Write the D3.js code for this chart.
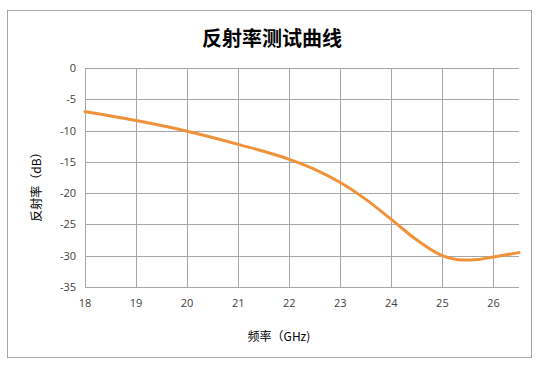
<!DOCTYPE html>
<html><head><meta charset="utf-8">
<script src="https://cdn.jsdelivr.net/npm/d3@7"></script>
<style>body{margin:0;background:#fff}</style>
</head><body>
<svg id="c" width="542" height="370"></svg>
<script>
const freq = [18, 19, 20, 21, 22, 22.5, 23, 23.5, 24, 24.5, 25, 25.4, 25.7, 26, 26.5];
const reflect = [-7, -8.4, -10.1, -12.2, -14.6, -16.2, -18.3, -21, -24.2, -27.5, -30, -30.7, -30.6, -30.2, -29.5];
const xTicks = [18, 19, 20, 21, 22, 23, 24, 25, 26];
const yTicks = [0, -5, -10, -15, -20, -25, -30, -35];
const title = "反射率测试曲线";
const xTitle = "频率（GHz)";
const yTitle = "反射率（dB）";

const svg = d3.select("#c");
svg.append("rect").attr("x", 7.5).attr("y", 10.5).attr("width", 524).attr("height", 347)
  .attr("fill", "#fff").attr("stroke", "#a6a6a6").attr("stroke-width", 1);

const L = 85, R = 519, T = 68, B = 287;
const x = d3.scaleLinear().domain([18, 26.5]).range([L, R]);
const y = d3.scaleLinear().domain([-35, 0]).range([B, T]);

const g = svg.append("g");
// horizontal grid
g.selectAll("line.h").data(yTicks).join("line")
  .attr("x1", L).attr("x2", R).attr("y1", d => Math.round(y(d)) + 0.5).attr("y2", d => Math.round(y(d)) + 0.5)
  .attr("stroke", "#a6a6a6").attr("stroke-width", 1);
// vertical grid
g.selectAll("line.v").data(xTicks).join("line")
  .attr("y1", T).attr("y2", B).attr("x1", d => Math.round(x(d)) + 0.5).attr("x2", d => Math.round(x(d)) + 0.5)
  .attr("stroke", "#a6a6a6").attr("stroke-width", 1);

const font = "'Open Sans','DejaVu Sans',sans-serif";
g.selectAll("text.y").data(yTicks).join("text")
  .attr("x", 76).attr("y", d => y(d) + 4).attr("text-anchor", "end")
  .attr("font-family", font).attr("font-size", 11).attr("fill", "#404040").text(d => d);
g.selectAll("text.x").data(xTicks).join("text")
  .attr("x", d => x(d)).attr("y", 307).attr("text-anchor", "middle")
  .attr("font-family", font).attr("font-size", 11).attr("fill", "#404040").text(d => d);

const line = d3.line().x((d, i) => x(freq[i])).y(d => y(d)).curve(d3.curveMonotoneX);
svg.append("path").attr("d", line(reflect)).attr("fill", "none")
  .attr("stroke", "#f0923a").attr("stroke-width", 3).attr("stroke-linecap", "round");

const cjk = "'Noto Sans CJK SC',sans-serif";
svg.append("text").attr("x", 272).attr("y", 46).attr("text-anchor", "middle")
  .attr("font-family", cjk).attr("font-size", 20).attr("font-weight", "bold").attr("fill", "#000").text(title);
svg.append("text").attr("x", 279).attr("y", 341).attr("text-anchor", "middle")
  .attr("font-family", cjk).attr("font-size", 12).attr("fill", "#000").text(xTitle);
svg.append("text").attr("transform", "translate(41,184) rotate(-90)").attr("text-anchor", "middle")
  .attr("font-family", cjk).attr("font-size", 12).attr("fill", "#000").text(yTitle);
</script>
</body></html>
